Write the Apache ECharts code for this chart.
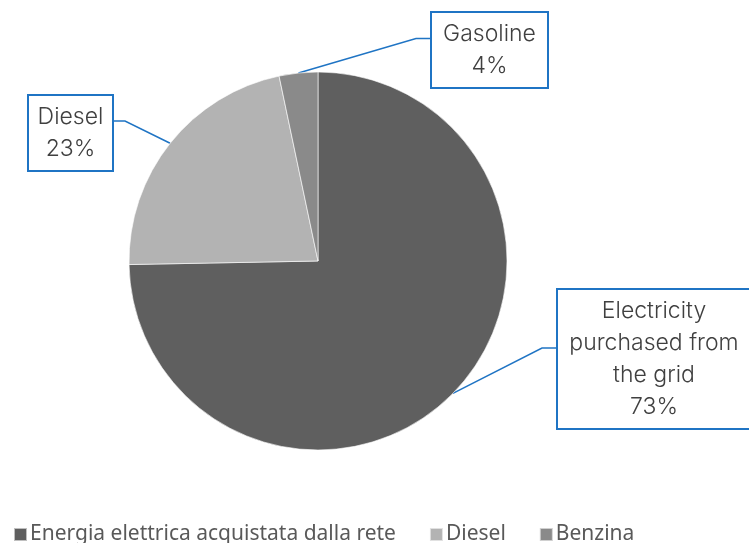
<!DOCTYPE html>
<html>
<head>
<meta charset="utf-8">
<script src="https://cdn.jsdelivr.net/npm/echarts@6/dist/echarts.min.js"></script>
<style>
	html, body { margin: 0; padding: 0; background: #fff; }
	#fuelPie { width: 749px; height: 543px; }
</style>
</head>
<body>
<div id="fuelPie"></div>
<script>
// legend names (as in the source sheet)
var categories = ["Energia elettrica acquistata dalla rete", "Diesel", "Benzina"];
// data label names
var labelNames = ["Electricity\npurchased from\nthe grid", "Diesel", "Gasoline"];
// slice sizes as drawn
var sliceValues = [74.7, 22.0, 3.3];
// percentages printed in the labels
var labelPercents = [73, 23, 4];
var sliceColors = ["#5f5f5f", "#b3b3b3", "#8a8a8a"];

// label boxes: left, top, width, height
var boxes = [
	{ x: 558, y: 290, w: 192, h: 138, side: "right" },
	{ x: 29, y: 96, w: 83, h: 72, side: "left" },
	{ x: 432, y: 13, w: 115, h: 73, side: "right" }
];

function fuelPie(){
	var myChart = echarts.init(document.getElementById('fuelPie'));

	var data = [];
	for (var i = 0; i < categories.length; i++) {
		data.push({
			name : categories[i],
			value : sliceValues[i],
			itemStyle : { color : sliceColors[i] },
			label : { width : boxes[i].w - 16 }
		});
	}

	var option = {
		animation : false,
		legend : {
			left : 8,
			top : 519,
			icon : 'rect',
			itemWidth : 13,
			itemHeight : 13,
			itemGap : 33,
			textStyle : {
				fontFamily : "'Noto Sans', sans-serif",
				fontSize : 21,
				color : '#595959',
				padding : [0, 0, 0, -2]
			},
			data : categories
		},
		series : [{
			type : 'pie',
			center : [318, 261],
			radius : 189,
			startAngle : 90,
			clockwise : true,
			avoidLabelOverlap : false,
			itemStyle : { borderColor : 'rgba(255,255,255,0.6)', borderWidth : 1 },
			emphasis : { disabled : true },
			label : {
				show : true,
				position : 'outside',
				formatter : function(p) {
					return labelNames[p.dataIndex] + '\n' + labelPercents[p.dataIndex] + '%';
				},
				fontFamily : 'Inter, sans-serif',
				fontWeight : 300,
				fontSize : 23,
				lineHeight : 32,
				color : '#404040',
				align : 'center',
				backgroundColor : '#fff',
				borderColor : '#1f74c4',
				borderWidth : 2,
				padding : [5, 8, 5, 8]
			},
			labelLine : {
				show : true,
				lineStyle : { color : '#1f74c4', width : 1.5 }
			},
			labelLayout : function(params) {
				var b = boxes[params.dataIndex];
				var p0 = params.labelLinePoints[0];
				var end, elbow;
				if (b.side == "left") {
					end = [b.x + b.w, b.y + b.h / 2 - 11];
					elbow = [end[0] + 13, end[1]];
				} else {
					end = [b.x, b.y + b.h / 2 - 11];
					elbow = [end[0] - 16, end[1]];
				}
				return {
					x : b.x + b.w / 2,
					y : b.y,
					align : 'center',
					verticalAlign : 'top',
					labelLinePoints : [p0, elbow, end]
				};
			},
			data : data
		}]
	};
	myChart.setOption(option);
}

fuelPie();
</script>
</body>
</html>
